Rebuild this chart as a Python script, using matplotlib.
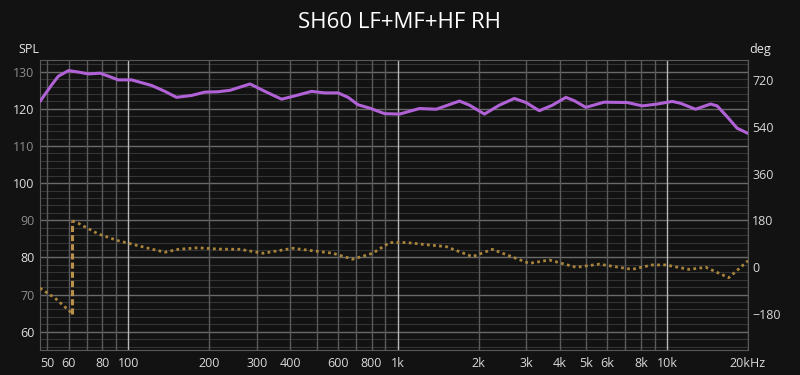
import numpy as np
import matplotlib
matplotlib.use('Agg')
import matplotlib.pyplot as plt
from matplotlib.ticker import FixedLocator, FuncFormatter

plt.rcParams['font.family'] = ['Open Sans', 'DejaVu Sans']

#       =======================================================================
#       Data
title = "SH60 LF+MF+HF RH"

spl_freq = [47, 52, 55, 60, 65.3, 71.1, 78.6, 84.3, 91.8, 102.8, 122, 136.8,
            151, 171.6, 192.3, 215.4, 238.7, 283.1, 321.7, 370.9, 415.5, 479,
            536.6, 600.9, 654.6, 712.9, 787.5, 895.2, 1017, 1206, 1391, 1697,
            1848, 2101, 2387, 2713, 2998, 3357, 3760, 4215, 4525, 4999, 5843,
            7129, 8099, 9207, 10462, 11236, 12772, 14518, 15360, 16726, 18218,
            20000]
spl_db = [122.0, 126.5, 128.8, 130.3, 129.9, 129.4, 129.6, 128.8, 127.8,
          127.8, 126.3, 124.7, 123.1, 123.6, 124.5, 124.6, 125.0, 126.7,
          124.7, 122.6, 123.5, 124.7, 124.3, 124.3, 123.1, 121.1, 120.2,
          118.7, 118.6, 120.1, 119.9, 122.1, 121.0, 118.6, 121.0, 122.8,
          121.7, 119.5, 121.0, 123.1, 122.2, 120.4, 121.8, 121.7, 120.8,
          121.3, 122.0, 121.5, 119.9, 121.3, 120.8, 117.9, 114.8, 113.4]

phase_freq = [47, 53.5, 62, 62, 65.3, 77.4, 91.8, 105.9, 122, 136.8, 153.2,
              181.6, 215.4, 259.9, 316.2, 408.4, 574.3, 681.3, 808, 934, 1080,
              1519, 1896, 2248, 3083, 3656, 4603, 5601, 7421, 8799, 9915,
              12063, 13946, 16967, 20000]
phase_deg = [-80, -119, -178, 179, 169, 128, 102, 86, 70, 58, 69, 75, 70, 69,
             54, 73, 54, 31, 54, 95, 95, 79, 41, 69, 15, 28, 0, 12, -8, 9, 9,
             -8, 0, -40, 25]

freq_ticks = [50, 60, 80, 100, 200, 300, 400, 600, 800, 1000, 2000, 3000,
              4000, 5000, 6000, 8000, 10000, 20000]
freq_labels = ['50', '60', '80', '100', '200', '300', '400', '600', '800',
               '1k', '2k', '3k', '4k', '5k', '6k', '8k', '10k', '20kHz']
spl_ticks = [60, 70, 80, 90, 100, 110, 120, 130]
deg_ticks = [-180, 0, 180, 360, 540, 720]

#       =======================================================================
#       Plot
bg = '#121212'
fig = plt.figure(figsize=(8, 3.75), dpi=100, facecolor=bg)
ax = fig.add_axes([0.05, 0.0667, 0.885, 0.7733])
ax.set_facecolor(bg)

ax.set_xscale('log')
ax.set_xlim(47, 20000)
ax.set_ylim(55.1, 133.15)

# vertical grid: every multiple, decades brighter
decades = [100, 1000, 10000]
multiples = [m * d for d in [10, 100, 1000, 10000] for m in range(1, 10)]
multiples = [f for f in multiples if 47 <= f <= 20000 and f not in decades]
ax.xaxis.set_major_locator(FixedLocator(decades))
ax.xaxis.set_minor_locator(FixedLocator(multiples))
lab = dict(zip(freq_ticks, freq_labels))
fmt = FuncFormatter(lambda v, p: lab.get(int(round(v)), ''))
ax.xaxis.set_major_formatter(fmt)
ax.xaxis.set_minor_formatter(fmt)
ax.grid(True, which='major', axis='x', color='#b8b8b8', lw=1)
ax.grid(True, which='minor', axis='x', color='#5a5a5a', lw=1)
ax.set_axisbelow(True)

# horizontal grid drawn underneath the vertical one
ax.set_yticks(spl_ticks)
for v in np.arange(56, 134, 2):
    if v % 10 == 0:
        ax.axhline(v, color='#6a6a6a', lw=1, zorder=0.3)
    else:
        ax.axhline(v, color='#343434', lw=0.8, zorder=0.2)

ax.tick_params(axis='both', which='both', length=0, labelsize=9)
ax.tick_params(axis='x', which='both', colors='#d8d8d8', pad=5)
ax.tick_params(axis='y', pad=4)
for t, v in zip(ax.get_yticklabels(), spl_ticks):
    t.set_color('#e0e0e0' if v % 20 == 0 else '#8c8c8c')

for s in ax.spines.values():
    s.set_color('#5a5a5a')

ax.plot(spl_freq, spl_db, color='#b062d6', lw=2.2, solid_capstyle='round',
        solid_joinstyle='round', zorder=4)

# phase on right axis
ax2 = ax.twinx()
ax2.set_ylim(-318, 797)
ax2.set_yticks(deg_ticks)
ax2.tick_params(axis='y', length=0, labelsize=9, colors='#d8d8d8', pad=3)
ax2.patch.set_visible(False)
for s in ax2.spines.values():
    s.set_visible(False)

pf = np.array(phase_freq, dtype=float)
pd = np.array(phase_deg, dtype=float)
jump = np.where(np.abs(np.diff(pd)) > 180)[0]
start = 0
for j in list(jump) + [len(pd) - 1]:
    ax2.plot(pf[start:j + 1], pd[start:j + 1], color='#a8843c', lw=2,
             linestyle=(0, (1, 1.2)), zorder=3)
    if j < len(pd) - 1:
        ax2.plot(pf[j:j + 2], pd[j:j + 2], color='#b8904a', lw=2.2,
                 linestyle=(0, (2, 1)), zorder=3)
    start = j + 1

fig.text(0.5, 0.941, title, ha='center', va='center', color='white',
         fontsize=16)
fig.text(0.036, 0.867, 'SPL', ha='center', va='center', color='#e8e8e8',
         fontsize=9)
fig.text(0.95, 0.867, 'deg', ha='center', va='center', color='#e8e8e8',
         fontsize=9)

fig.savefig('out.png', dpi=100, facecolor=bg)
